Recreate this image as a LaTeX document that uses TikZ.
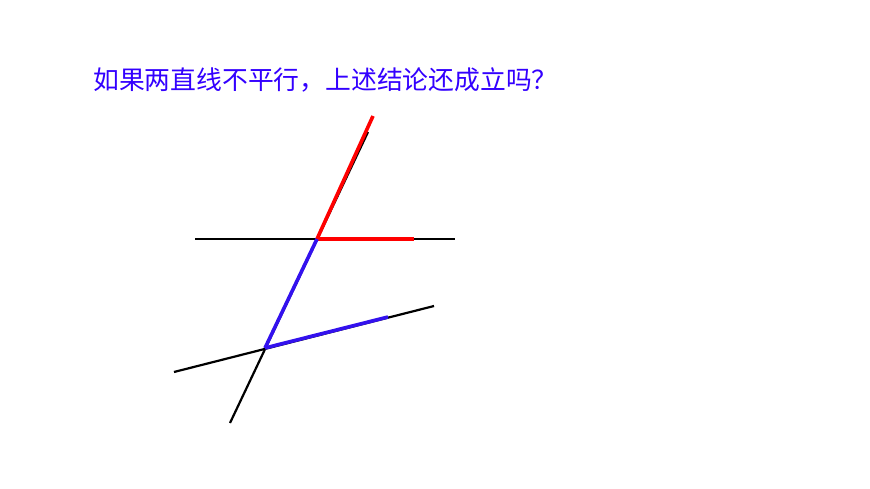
\documentclass[tikz,border=0pt]{standalone}
\usepackage{fontspec}
\newfontfamily\cjk{Noto Sans CJK SC}
\definecolor{qblue}{HTML}{3300FF}
\definecolor{lblue}{HTML}{3311EE}
\begin{document}
\begin{tikzpicture}[x=1pt,y=-1pt,
  blackline/.style={draw=black,line width=2.2pt},
  redline/.style={draw=red,line width=3.6pt},
  blueline/.style={draw=lblue,line width=3.6pt}]
\useasboundingbox (0,0) rectangle (870,489);
\node[anchor=west,inner sep=0pt,text=qblue,font=\cjk\fontsize{25.8}{27}\selectfont] (q) at (93,80) {如果两直线不平行，上述结论还成立吗？};
\coordinate (hA) at (195,239);
\coordinate (hB) at (455,239);
\coordinate (P) at (317,239);
\coordinate (Q) at (265,348);
\coordinate (lA) at (174,372);
\coordinate (lB) at (434,306);
\coordinate (tA) at (230,423);
\coordinate (tB) at (368,132);
\coordinate (rT) at (373,116);
\coordinate (rH) at (414,239);
\coordinate (bL) at (388,317);
\draw[blackline] (hA) -- (hB);
\draw[blackline] (lA) -- (lB);
\draw[blackline] (tA) -- (tB);
\draw[redline] (P) -- (rT);
\draw[redline] (P) -- (rH);
\draw[blueline] (Q) -- (P);
\draw[blueline] (Q) -- (bL);
\end{tikzpicture}
\end{document}
